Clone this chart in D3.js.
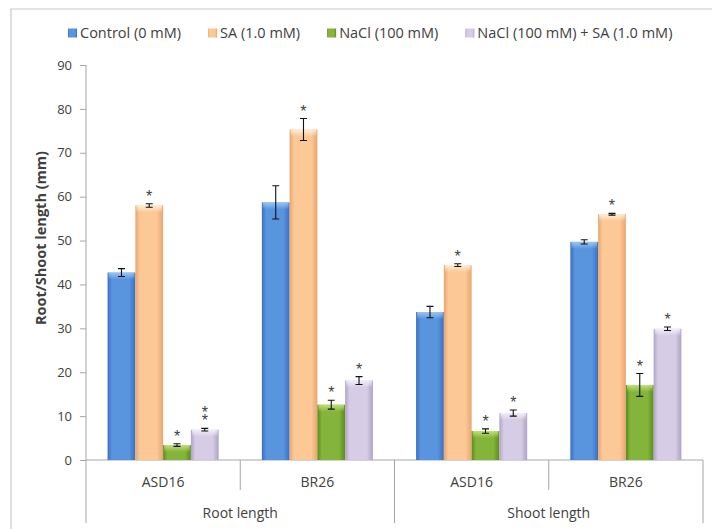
<!DOCTYPE html>
<html>
<head>
    <title>Root/Shoot length</title>
    <script src="https://d3js.org/d3.v7.min.js"></script>
    <style>
        body {
            margin: 0;
            background-color: #fff;
            font-family: "Open Sans", Arial, sans-serif;
        }
        svg text {
            fill: #404040;
        }
    </style>
</head>
<body>
    <div id="chart"></div>
    <script>
        // data
        const traits = ['Root length', 'Shoot length'];
        const varieties = ['ASD16', 'BR26'];
        const treatments = ['Control (0 mM)', 'SA (1.0 mM)', 'NaCl (100 mM)', 'NaCl (100 mM) + SA (1.0 mM)'];

        // one row per trait/variety, one value per treatment
        const means = [
            [42.7, 58.0, 3.4, 6.9],
            [58.7, 75.3, 12.6, 18.1],
            [33.7, 44.4, 6.6, 10.7],
            [49.7, 56.0, 17.1, 29.9]
        ];
        const errors = [
            [0.9, 0.4, 0.3, 0.3],
            [3.8, 2.5, 1.0, 0.9],
            [1.3, 0.3, 0.5, 0.7],
            [0.5, 0.2, 2.6, 0.4]
        ];
        const stars = [
            ['', '*', '*', '**'],
            ['', '*', '*', '*'],
            ['', '*', '*', '*'],
            ['', '*', '*', '*']
        ];
        const yTicks = [0, 10, 20, 30, 40, 50, 60, 70, 80, 90];

        const width = 712;
        const height = 529;
        const margin = { left: 86, right: 9, top: 65, bottom: 69 };

        // colours: [edge, centre, top highlight]
        const colors = [
            ['#3a6ec2', '#5994df', '#9ccaf4'],
            ['#e8a56e', '#fcc896', '#fff0dc'],
            ['#5b8a20', '#84b53a', '#c4e47c'],
            ['#aea2c6', '#d6cce6', '#f4f0fa']
        ];

        const svg = d3.select('#chart')
            .append('svg')
            .attr('width', width)
            .attr('height', height);

        const defs = svg.append('defs');
        colors.forEach((c, i) => {
            const g = defs.append('linearGradient')
                .attr('id', 'bar' + i)
                .attr('x1', '0%').attr('x2', '100%')
                .attr('y1', '0%').attr('y2', '0%');
            g.append('stop').attr('offset', '0%').attr('stop-color', c[0]);
            g.append('stop').attr('offset', '16%').attr('stop-color', c[1]);
            g.append('stop').attr('offset', '78%').attr('stop-color', c[1]);
            g.append('stop').attr('offset', '100%').attr('stop-color', c[0]);

            const t = defs.append('linearGradient')
                .attr('id', 'top' + i)
                .attr('x1', '0%').attr('x2', '0%')
                .attr('y1', '0%').attr('y2', '100%');
            t.append('stop').attr('offset', '0%').attr('stop-color', c[2]).attr('stop-opacity', 0.95);
            t.append('stop').attr('offset', '100%').attr('stop-color', c[2]).attr('stop-opacity', 0);
        });

        // outer frame
        svg.append('path')
            .attr('d', `M11,${height}V9H${width}`)
            .attr('fill', 'none')
            .attr('stroke', '#c8c8c8')
            .attr('stroke-width', 1.2);

        const groups = [];
        traits.forEach(t => varieties.forEach(v => groups.push(t + '|' + v)));

        const x0 = d3.scaleBand()
            .domain(groups)
            .range([margin.left, width - margin.right])
            .paddingInner(0.28)
            .paddingOuter(0.14);

        const xOuter = d3.scaleBand()
            .domain(traits)
            .range([margin.left, width - margin.right]);

        const x1 = d3.scaleBand()
            .domain(d3.range(treatments.length))
            .range([0, x0.bandwidth()]);

        const y = d3.scaleLinear()
            .domain([0, 90])
            .range([height - margin.bottom, margin.top]);

        // y axis
        const yAxis = svg.append('g')
            .attr('transform', `translate(${margin.left},0)`)
            .call(d3.axisLeft(y).tickValues(yTicks).tickSize(6).tickPadding(8));
        yAxis.select('.domain').remove();
        yAxis.selectAll('.tick line').attr('stroke', '#a6a6a6');
        yAxis.selectAll('.tick text')
            .attr('font-family', '"Open Sans", Arial, sans-serif')
            .attr('font-size', 13)
            .attr('fill', '#404040');

        svg.append('line')
            .attr('x1', margin.left).attr('x2', margin.left)
            .attr('y1', y(90)).attr('y2', height - 6)
            .attr('stroke', '#a6a6a6');

        // category axis
        const y0 = y(0);
        svg.append('line')
            .attr('x1', margin.left).attr('x2', width - margin.right)
            .attr('y1', y0).attr('y2', y0)
            .attr('stroke', '#a6a6a6');

        const step = x0.step();
        // inner separators
        traits.forEach(t => {
            const mid = xOuter(t) + xOuter.bandwidth() / 2;
            svg.append('line')
                .attr('x1', mid).attr('x2', mid)
                .attr('y1', y0).attr('y2', y0 + 30)
                .attr('stroke', '#a6a6a6');
        });
        // outer separators
        traits.forEach(t => {
            const xe = xOuter(t) + xOuter.bandwidth();
            svg.append('line')
                .attr('x1', xe).attr('x2', xe)
                .attr('y1', y0).attr('y2', height - 6)
                .attr('stroke', '#a6a6a6');
        });

        // variety labels
        groups.forEach(g => {
            svg.append('text')
                .attr('x', x0(g) - step * 0.14 + step / 2)
                .attr('y', y0 + 27)
                .attr('text-anchor', 'middle')
                .attr('font-size', 14)
                .text(g.split('|')[1]);
        });
        traits.forEach(t => {
            svg.append('text')
                .attr('x', xOuter(t) + xOuter.bandwidth() / 2)
                .attr('y', y0 + 58)
                .attr('text-anchor', 'middle')
                .attr('font-size', 14)
                .text(t);
        });

        // bars
        groups.forEach((g, gi) => {
            const gg = svg.append('g').attr('transform', `translate(${x0(g)},0)`);
            treatments.forEach((tr, i) => {
                const v = means[gi][i];
                const bx = x1(i);
                const bw = x1.bandwidth();
                gg.append('rect')
                    .attr('x', bx).attr('y', y(v))
                    .attr('width', bw).attr('height', y0 - y(v))
                    .attr('fill', `url(#bar${i})`);
                gg.append('rect')
                    .attr('x', bx + 1).attr('y', y(v))
                    .attr('width', bw - 2).attr('height', Math.min(7, y0 - y(v)))
                    .attr('fill', `url(#top${i})`);

                // error bar
                const e = errors[gi][i];
                const cx = bx + bw / 2;
                gg.append('path')
                    .attr('d', `M${cx - 3.5},${y(v + e)}H${cx + 3.5}M${cx},${y(v + e)}V${y(v - e)}M${cx - 3.5},${y(v - e)}H${cx + 3.5}`)
                    .attr('stroke', '#111')
                    .attr('stroke-width', 1.1)
                    .attr('fill', 'none');

                // significance stars (stacked, one text element)
                const s = stars[gi][i];
                if (s) {
                    const st = gg.append('text')
                        .attr('text-anchor', 'middle')
                        .attr('font-family', 'Liberation Sans, Arial, sans-serif')
                        .attr('font-size', 16)
                        .attr('fill', '#222');
                    s.split('').forEach((ch, k) => {
                        st.append('tspan')
                            .attr('x', cx)
                            .attr('y', y(v + e) - 2 - (s.length - 1 - k) * 8.5)
                            .text(ch);
                    });
                }
            });
        });

        // y title
        svg.append('text')
            .attr('transform', `translate(46,238) rotate(-90)`)
            .attr('text-anchor', 'middle')
            .attr('font-size', 14.5)
            .attr('font-weight', 'bold')
            .text('Root/Shoot length (mm)');

        // legend
        const legend = svg.append('g').attr('transform', 'translate(68,33)');
        let lx = 0;
        treatments.forEach((tr, i) => {
            const item = legend.append('g').attr('transform', `translate(${lx},0)`);
            item.append('rect')
                .attr('x', 0).attr('y', -4.5)
                .attr('width', 9).attr('height', 9)
                .attr('fill', `url(#bar${i})`);
            const txt = item.append('text')
                .attr('x', 12)
                .attr('y', 5)
                .attr('font-size', 14.5)
                .text(tr);
            lx += 12 + txt.node().getComputedTextLength() + 27;
        });
    </script>
</body>
</html>
